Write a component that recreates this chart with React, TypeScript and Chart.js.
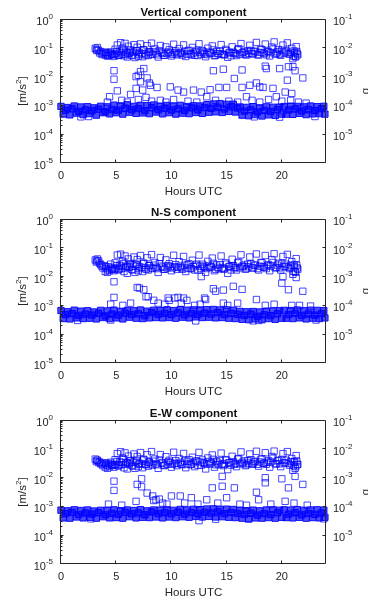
import React, { useEffect, useRef } from 'react';
import { Chart, registerables } from 'chart.js';

Chart.register(...registerables);

// ---------- text / axes ----------
const PANEL_TITLES = ['Vertical component', 'N-S component', 'E-W component'];
const X_LABEL = 'Hours UTC';
const Y_LABEL_BASE = '[m/s';
const Y_LABEL_SUP = '2';
const Y_LABEL_END = ']';
const RIGHT_LABEL_CUT = 'g';
const X_TICKS = [0, 5, 10, 15, 20];
const LEFT_EXPONENTS = [0, -1, -2, -3, -4, -5];
const RIGHT_EXPONENTS = [-1, -2, -3, -4, -5];
const HOUR_MIN = 0;
const HOUR_MAX = 24;
const LEFT_MIN = 1e-5;
const LEFT_MAX = 1;
const RIGHT_MIN = 1e-6;
const RIGHT_MAX = 1e-1;

// ---------- data ----------
// background level: sample times (hours UTC), shared by all three components
const bandHours = [
  0, 0.2, 0.4, 0.6, 0.8, 1, 1.2, 1.4, 1.6, 1.8, 2, 2.2, 2.4, 2.6, 2.8, 3, 3.2, 3.4, 3.6, 3.8, 4,
  4.2, 4.4, 4.6, 4.8, 5, 5.2, 5.4, 5.6, 5.8, 6, 6.2, 6.4, 6.6, 6.8, 7, 7.2, 7.4, 7.6, 7.8, 8, 8.2, 8.4, 8.6, 8.8, 9,
  9.2, 9.4, 9.6, 9.8, 10, 10.2, 10.4, 10.6, 10.8, 11, 11.2, 11.4, 11.6, 11.8, 12, 12.2, 12.4, 12.6, 12.8, 13,
  13.2, 13.4, 13.6, 13.8, 14, 14.2, 14.4, 14.6, 14.8, 15, 15.2, 15.4, 15.6, 15.8, 16,
  16.2, 16.4, 16.6, 16.8, 17, 17.2, 17.4, 17.6, 17.8, 18, 18.2, 18.4, 18.6, 18.8, 19, 19.2, 19.4, 19.6, 19.8, 20,
  20.2, 20.4, 20.6, 20.8, 21, 21.2, 21.4, 21.6, 21.8, 22, 22.2, 22.4, 22.6, 22.8, 23, 23.2, 23.4, 23.6, 23.8, 23.9,
];
// background level values, in units of 1e-4 m/s^2
const bandVertical = [
  9.2, 5.0, 6.8, 8.4, 4.7, 7.6, 9.5, 5.4, 6.2, 8.8, 4.8, 7.0, 9.0, 5.2, 6.5, 8.2, 4.6, 7.4, 9.3, 5.6, 6.0,
  8.9, 5.1, 7.2, 10.2, 5.6, 6.8, 9.6, 5.0, 8.0, 10.5, 5.8, 7.0, 9.2, 5.3, 7.8, 10.0, 5.5, 6.6, 9.8, 5.2, 8.3, 10.3, 5.9, 7.1, 9.4,
  5.1, 8.0, 9.9, 5.6, 6.9, 9.3, 5.0, 7.6, 10.0, 5.4, 6.7, 9.1, 5.2, 8.2, 9.7, 5.7, 7.0, 9.5, 5.3, 8.4,
  10.6, 5.8, 7.9, 11.2, 6.0, 8.6, 11.5, 5.7, 7.5, 10.9, 6.2, 9.0, 11.0, 5.9, 8.1,
  8.8, 4.6, 6.3, 8.5, 4.4, 7.0, 9.0, 4.8, 5.9, 8.2, 4.3, 6.8, 8.9, 4.7, 6.1, 8.6, 4.5, 7.2, 8.7, 5.0,
  9.1, 5.0, 6.9, 9.4, 4.9, 7.5, 9.2, 5.3, 6.4, 8.9, 4.8, 7.1, 9.5, 5.1, 6.6, 9.0, 5.2, 7.7, 9.3, 5.0,
];
const bandNS = [
  6.6, 3.5, 4.8, 6.0, 3.4, 5.2, 6.8, 3.7, 4.5, 6.3, 3.5, 5.0, 6.5, 3.6, 4.6, 5.9, 3.4, 5.3, 6.7, 3.8, 4.3,
  6.4, 3.5, 5.0, 6.8, 3.7, 4.6, 6.2, 3.4, 5.4, 6.7, 3.9, 4.8, 6.5, 3.6, 5.1, 6.9, 3.5, 4.4, 6.3, 3.7, 5.6, 6.8, 3.8, 4.9, 6.6,
  3.7, 5.3, 7.0, 3.8, 4.8, 6.6, 3.6, 5.5, 7.1, 3.9, 4.7, 6.8, 3.7, 5.2, 7.0, 4.0, 4.9, 6.9, 3.8, 5.4,
  7.1, 3.9, 5.0, 7.2, 3.7, 5.6, 6.9, 3.8, 4.8, 7.0, 3.6, 5.3, 6.8, 3.5, 4.9,
  6.2, 3.3, 4.5, 6.0, 3.2, 5.0, 6.1, 3.4, 4.2, 5.9, 3.2, 4.7, 6.3, 3.5, 4.4, 6.4, 3.3, 5.1, 6.5, 3.6,
  6.7, 3.6, 4.8, 6.6, 3.5, 5.3, 6.9, 3.7, 4.5, 6.5, 3.4, 5.0, 6.8, 3.6, 4.6, 6.7, 3.5, 5.2, 6.6, 3.7,
];
const bandEW = [
  7.4, 4.0, 5.6, 7.0, 3.9, 6.2, 7.6, 4.3, 5.2, 7.2, 4.0, 5.9, 7.5, 4.2, 5.4, 6.9, 3.9, 6.0, 7.3, 4.4, 5.1,
  7.3, 4.0, 5.7, 7.6, 4.1, 5.3, 7.1, 3.9, 6.2, 7.5, 4.4, 5.5, 7.2, 4.0, 5.9, 7.7, 4.2, 5.1, 7.0, 4.1, 6.4, 7.5, 4.3, 5.6, 7.4,
  4.0, 6.0, 7.6, 4.3, 5.5, 7.3, 4.1, 6.3, 7.8, 4.4, 5.4, 7.5, 4.2, 6.1, 7.9, 4.5, 5.7, 7.7, 4.3, 6.2,
  8.1, 4.5, 5.9, 8.2, 4.3, 6.5, 7.9, 4.4, 5.6, 8.0, 4.2, 6.1, 7.8, 4.1, 5.7,
  7.3, 3.9, 5.3, 7.1, 3.8, 5.8, 7.4, 4.0, 5.0, 7.0, 3.9, 5.6, 7.5, 4.1, 5.2, 7.6, 3.9, 6.0, 7.3, 4.2,
  7.6, 4.1, 5.4, 7.4, 4.0, 6.0, 7.7, 4.2, 5.1, 7.3, 3.9, 5.7, 7.5, 4.1, 5.3, 7.6, 4.0, 5.9, 7.4, 4.2,
];

// daytime high-level cluster, outer spread: sample times (hours UTC), shared by the three components
const upperHours = [
  3.1, 3.2, 3.3, 3.4, 3.6, 3.8, 3.9, 4.0, 4.1, 4.2, 4.3, 4.4, 4.5, 4.6,
  4.8, 4.9, 5.0, 5.1, 5.2, 5.3, 5.4, 5.5, 5.6, 5.7, 5.8, 5.9, 6.0, 6.1, 6.2, 6.3,
  6.5, 6.6, 6.7, 6.8, 6.9, 7.0, 7.1, 7.2,
  7.4, 7.5, 7.6, 7.8, 7.9, 8.0, 8.2, 8.3, 8.5, 8.6, 8.8, 9.0,
  9.1, 9.3, 9.5, 9.6, 9.8, 10.0,
  10.2, 10.3,
  10.5, 10.7, 10.9, 11.1, 11.3, 11.5, 11.7, 11.9, 12.1, 12.3, 12.5, 12.7, 12.9, 13.1, 13.3, 13.5, 13.7, 13.9,
  14.1, 14.3, 14.5, 14.7, 14.9, 15.1, 15.3, 15.5, 15.7, 15.9, 16.1, 16.3, 16.5, 16.7, 16.9, 17.1, 17.3, 17.5,
  17.7, 17.9, 18.1, 18.3, 18.5, 18.7, 18.9, 19.1, 19.3, 19.5, 19.7, 19.9, 20.1, 20.3, 20.5, 20.7, 20.9,
  21.0, 21.1, 21.2, 21.3, 21.4,
];
// values in units of 1e-2 m/s^2
const upperVertical = [
  9.6, 8.7, 10.2, 8.2, 7.4, 6.3, 7.0, 5.6, 6.1, 5.2, 6.8, 5.5, 7.2, 6.0,
  5.0, 8.9, 6.4, 12.5, 5.4, 7.6, 15.0, 6.0, 9.8, 5.3, 14.2, 7.1, 4.8, 11.3, 6.5, 8.4,
  5.6, 12.8, 4.6, 7.9, 10.4, 5.1, 6.9, 13.6,
  4.9, 8.6, 6.2, 11.8, 5.4, 7.3, 14.5, 5.9, 9.1, 6.6, 4.8, 12.0,
  7.0, 5.5, 10.7, 6.3, 8.5, 5.2,
  13.3, 6.8,
  5.7, 9.4, 6.4, 12.6, 5.0, 7.8, 6.1, 10.3, 5.5, 8.2, 13.8, 6.0, 7.2, 4.9, 9.7, 6.6, 11.6, 5.3,
  7.5, 6.2, 12.9, 5.8, 8.8, 4.7, 7.0, 10.8, 6.4, 5.4, 9.3, 14.0, 6.9, 5.9, 8.0, 12.2, 6.3, 7.6,
  15.3, 5.6, 9.0, 6.8, 13.5, 7.4, 5.2, 10.6, 16.0, 6.5, 8.7, 5.5, 12.4, 7.1, 14.8, 6.0, 9.6,
  4.2, 7.8, 5.0, 11.0, 6.2,
];
const upperNS = [
  3.8, 3.2, 4.1, 3.5, 2.6, 2.0, 2.4, 1.5, 1.9, 1.4, 2.2, 1.6, 2.7, 1.8,
  1.6, 3.0, 2.0, 5.6, 1.7, 2.5, 6.0, 1.9, 3.4, 1.5, 5.2, 2.3, 1.3, 4.1, 2.1, 2.8,
  1.7, 4.8, 1.4, 2.6, 3.9, 1.6, 2.2, 5.4,
  1.5, 2.9, 2.0, 4.5, 1.7, 2.4, 5.8, 1.9, 3.1, 2.1, 1.4, 4.6,
  2.3, 1.8, 3.8, 2.0, 2.8, 1.6,
  5.5, 2.2,
  1.8, 3.3, 2.0, 5.0, 1.5, 2.6, 1.9, 3.7, 1.7, 2.7, 5.6, 1.9, 2.3, 1.4, 3.4, 2.1, 4.4, 1.6,
  2.5, 1.9, 5.2, 1.8, 3.0, 1.3, 2.3, 4.0, 2.0, 1.7, 3.2, 5.7, 2.2, 1.8, 2.7, 4.8, 2.0, 2.5,
  6.1, 1.7, 3.1, 2.2, 5.4, 2.4, 1.6, 3.9, 6.2, 2.1, 2.9, 1.7, 5.0, 2.3, 5.9, 1.9, 3.3,
  1.2, 2.6, 1.5, 4.2, 2.0,
];
const upperEW = [
  4.4, 3.6, 4.0, 3.3, 3.0, 2.6, 3.2, 2.3, 2.8, 2.1, 3.1, 2.4, 3.4, 2.7,
  2.3, 4.2, 2.9, 6.8, 2.5, 3.5, 7.9, 2.8, 4.7, 2.2, 7.2, 3.3, 2.0, 5.6, 3.0, 3.9,
  2.5, 6.6, 2.1, 3.7, 5.4, 2.4, 3.1, 7.4,
  2.2, 4.1, 2.9, 6.2, 2.5, 3.4, 8.0, 2.7, 4.4, 3.0, 2.1, 6.3,
  3.2, 2.6, 5.3, 2.9, 4.0, 2.3,
  7.6, 3.1,
  2.6, 4.6, 2.9, 6.9, 2.2, 3.7, 2.8, 5.1, 2.4, 3.8, 7.5, 2.7, 3.3, 2.0, 4.8, 3.0, 6.1, 2.3,
  3.6, 2.8, 7.1, 2.6, 4.2, 1.9, 3.3, 5.5, 2.9, 2.4, 4.5, 7.8, 3.1, 2.6, 3.8, 6.6, 2.9, 3.5,
  8.2, 2.5, 4.3, 3.1, 7.3, 3.4, 2.3, 5.4, 8.3, 3.0, 4.0, 2.4, 6.8, 3.2, 8.0, 2.7, 4.6,
  1.8, 3.6, 2.1, 5.8, 2.8,
];

// daytime high-level cluster, dense core: sample times (hours UTC)
const coreHours = [
  3.25, 3.5, 3.7, 4.05, 4.25, 4.55, 4.7,
  4.85, 5.05, 5.25, 5.45, 5.65, 5.85, 6.05, 6.25,
  6.4, 6.6, 6.85, 7.05, 7.3, 7.5, 7.7, 7.95,
  8.15, 8.4, 8.7, 8.9, 9.2, 9.4, 9.7, 9.9,
  10.1, 10.4, 10.6,
  10.8, 11.0, 11.2, 11.4, 11.6, 11.8, 12.0, 12.2, 12.4, 12.6, 12.8, 13.0, 13.2, 13.4, 13.6, 13.8, 14.0,
  14.2, 14.4, 14.6, 14.8, 15.0, 15.2, 15.4, 15.6, 15.8, 16.0, 16.2, 16.4, 16.6, 16.8, 17.0, 17.2, 17.4,
  17.6, 17.8, 18.0, 18.2, 18.4, 18.6, 18.8, 19.0, 19.2, 19.4, 19.6, 19.8, 20.0, 20.2, 20.4, 20.6, 20.8,
  21.05, 21.15, 21.25, 21.35, 21.45,
];
// values in units of 1e-2 m/s^2
const coreVertical = [
  8.0, 6.6, 5.8, 6.9, 5.3, 6.2, 5.7,
  6.0, 7.3, 5.5, 6.8, 8.1, 5.9, 6.5, 7.6,
  5.4, 6.9, 7.8, 5.8, 6.3, 8.3, 5.6, 7.0,
  6.1, 7.4, 5.7, 8.0, 6.4, 5.5, 7.2, 6.7,
  5.9, 7.7, 6.2,
  6.8, 5.6, 7.5, 6.0, 8.2, 5.7, 6.6, 7.3, 5.4, 6.9, 8.0, 6.2, 5.8, 7.1, 6.5, 8.4, 5.5,
  6.3, 7.6, 6.0, 5.7, 7.9, 6.6, 5.3, 7.0, 6.2, 8.5, 5.9, 6.7, 7.4, 5.6, 6.4, 8.1, 6.1,
  7.2, 5.8, 6.9, 8.6, 6.3, 5.7, 7.5, 6.8, 9.0, 6.0, 7.3, 5.9, 8.3, 6.5, 7.8, 6.2, 7.0,
  5.2, 6.6, 4.8, 7.4, 5.7,
];
const coreNS = [
  3.5, 2.9, 2.3, 2.2, 1.7, 2.0, 1.8,
  1.9, 2.4, 1.8, 2.3, 2.8, 2.0, 2.2, 2.6,
  1.8, 2.3, 2.7, 1.9, 2.1, 2.9, 1.8, 2.4,
  2.0, 2.5, 1.9, 2.8, 2.1, 1.8, 2.4, 2.2,
  2.0, 2.6, 2.1,
  2.3, 1.8, 2.5, 2.0, 2.8, 1.9, 2.2, 2.5, 1.7, 2.3, 2.7, 2.1, 1.9, 2.4, 2.2, 2.9, 1.8,
  2.1, 2.6, 2.0, 1.9, 2.7, 2.2, 1.7, 2.4, 2.1, 3.0, 2.0, 2.3, 2.5, 1.9, 2.2, 2.8, 2.0,
  2.5, 1.9, 2.3, 3.0, 2.1, 1.9, 2.6, 2.3, 3.1, 2.0, 2.5, 2.0, 2.9, 2.2, 2.7, 2.1, 2.4,
  1.5, 2.2, 1.4, 2.5, 1.8,
];
const coreEW = [
  4.0, 3.5, 3.0, 3.2, 2.6, 2.9, 2.7,
  2.8, 3.6, 2.7, 3.4, 4.2, 2.9, 3.2, 3.8,
  2.7, 3.4, 4.0, 2.9, 3.1, 4.3, 2.8, 3.5,
  3.0, 3.7, 2.8, 4.1, 3.2, 2.7, 3.6, 3.3,
  2.9, 3.9, 3.1,
  3.4, 2.8, 3.8, 3.0, 4.2, 2.9, 3.3, 3.7, 2.7, 3.5, 4.1, 3.1, 2.9, 3.6, 3.3, 4.3, 2.8,
  3.2, 3.9, 3.0, 2.9, 4.0, 3.3, 2.7, 3.6, 3.1, 4.4, 3.0, 3.4, 3.8, 2.8, 3.2, 4.2, 3.1,
  3.7, 2.9, 3.5, 4.5, 3.2, 2.9, 3.9, 3.5, 4.7, 3.0, 3.8, 3.0, 4.3, 3.3, 4.0, 3.1, 3.6,
  2.6, 3.4, 2.4, 3.8, 2.9,
];

// isolated intermediate points: [hour UTC, m/s^2]
const scatterVertical = [
  [4.8, 1.6e-2], [4.8, 8.1e-3], [5.1, 3.2e-3], [6.8, 1.0e-2], [7.5, 1.9e-2], [7.2, 6.6e-3], [8.0, 6.0e-3],
  [6.8, 3.9e-3], [7.4, 3.4e-3], [8.7, 4.2e-3], [9.9, 4.4e-3], [10.6, 3.4e-3], [11.1, 2.9e-3], [12.0, 3.4e-3],
  [12.7, 2.9e-3], [13.5, 3.5e-3], [14.3, 4.2e-3], [13.8, 1.6e-2], [14.7, 1.8e-2], [15.0, 4.2e-3], [15.7, 8.6e-3],
  [16.4, 1.7e-2], [16.4, 4.2e-3], [17.7, 6.0e-3], [18.3, 4.2e-3], [18.5, 2.3e-2], [19.8, 1.9e-2], [20.5, 7.5e-3],
  [21.2, 1.6e-2], [21.0, 2.2e-2], [21.9, 9.0e-3], [6.3, 2.4e-3], [16.8, 2.0e-3], [19.5, 2.0e-3], [20.3, 2.9e-3],
  [4.4, 2.0e-3], [7.7, 1.9e-3], [13.2, 2.0e-3], [7.2, 1.5e-2], [7.0, 1.1e-2], [7.8, 9.0e-3], [18.6, 1.9e-2],
  [20.6, 2.2e-2], [17.1, 5.0e-3], [18.0, 4.4e-3], [19.2, 3.9e-3], [20.9, 2.6e-3], [8.1, 5.0e-3],
  [4.2, 1.3e-3], [5.5, 1.5e-3], [6.0, 1.3e-3], [7.0, 1.6e-3], [8.2, 1.4e-3], [9.0, 1.5e-3], [9.5, 1.3e-3],
  [10.2, 1.6e-3], [11.5, 1.4e-3], [12.3, 1.3e-3], [14.0, 1.5e-3], [15.2, 1.4e-3], [16.0, 1.3e-3], [17.3, 1.5e-3],
  [18.0, 1.3e-3], [18.8, 1.6e-3], [20.0, 1.4e-3], [20.8, 1.5e-3], [21.5, 1.3e-3], [22.2, 1.2e-3],
  [1.8, 4.0e-4], [2.5, 4.1e-4], [17.5, 4.0e-4], [19.8, 3.9e-4], [23.0, 4.1e-4],
];
const scatterNS = [
  [4.8, 6.6e-3], [4.8, 1.9e-3], [6.9, 4.2e-3], [7.5, 3.5e-3], [7.7, 2.0e-3], [8.4, 1.5e-3], [9.8, 1.5e-3],
  [10.6, 1.9e-3], [11.4, 1.5e-3], [13.1, 1.6e-3], [13.8, 3.8e-3], [14.0, 3.1e-3], [14.7, 1.2e-3], [15.6, 4.6e-3],
  [16.4, 3.6e-3], [17.7, 1.6e-3], [20.0, 5.9e-3], [20.6, 3.5e-3], [21.3, 9.3e-3], [21.9, 3.1e-3], [6.3, 1.2e-3],
  [7.9, 2.0e-3], [14.7, 3.4e-3], [13.0, 1.8e-3], [20.9, 1.0e-3], [7.1, 4.0e-3], [12.7, 1.0e-2], [20.1, 1.0e-2],
  [9.7, 1.8e-3], [10.3, 1.8e-3], [11.1, 1.8e-3],
  [4.5, 1.1e-3], [5.6, 1.0e-3], [8.8, 1.2e-3], [9.4, 1.1e-3], [10.9, 1.2e-3], [12.1, 1.0e-3], [12.6, 1.1e-3],
  [15.1, 1.0e-3], [16.0, 1.2e-3], [18.5, 1.0e-3], [19.3, 1.1e-3], [21.6, 1.0e-3], [22.6, 9.5e-4],
  [1.5, 3.0e-4], [4.5, 3.1e-4], [12.2, 2.9e-4], [17.4, 2.9e-4], [17.9, 3.0e-4], [23.1, 3.1e-4],
];
const scatterEW = [
  [4.8, 7.5e-3], [4.8, 3.6e-3], [6.9, 5.8e-3], [7.3, 9.1e-3], [7.3, 4.8e-3], [7.8, 2.9e-3], [8.3, 2.3e-3],
  [8.6, 1.7e-3], [6.8, 1.5e-3], [10.0, 2.3e-3], [10.8, 2.3e-3], [11.8, 2.0e-3], [13.2, 1.7e-3], [13.7, 4.4e-3],
  [14.6, 5.0e-3], [14.6, 1.1e-2], [15.7, 4.4e-3], [15.0, 2.0e-3], [17.7, 3.1e-3], [18.5, 9.9e-3], [18.5, 6.6e-3],
  [20.0, 9.1e-3], [20.6, 4.4e-3], [21.2, 1.1e-2], [21.9, 5.8e-3], [17.9, 1.7e-3], [20.3, 1.5e-3], [21.1, 1.3e-3],
  [8.9, 1.8e-3], [8.4, 1.6e-3],
  [4.3, 1.2e-3], [5.5, 1.1e-3], [9.2, 1.3e-3], [9.6, 1.2e-3], [11.2, 1.3e-3], [12.4, 1.2e-3], [14.2, 1.3e-3],
  [16.2, 1.2e-3], [16.8, 1.1e-3], [19.0, 1.2e-3], [22.3, 1.1e-3],
  [2.7, 3.7e-4], [12.5, 3.2e-4], [14.0, 3.6e-4], [17.0, 3.6e-4], [23.8, 3.7e-4],
];

// ---------- styling ----------
const FONT = '"Liberation Sans", Arial, Helvetica, sans-serif';
const INK = '#262626';
const MARK = 'rgba(0,0,255,0.72)';
const BAND_EDGE = 'rgba(0,0,255,0.9)';
const BAND_FILL = 'rgba(0,0,255,0.7)';
const PANEL_TOPS = [0, 200, 401];
const CANVAS_W = 368;
const CANVAS_H = 200;

const PANELS = [
  { title: PANEL_TITLES[0], band: bandVertical, upper: upperVertical, core: coreVertical, scatter: scatterVertical },
  { title: PANEL_TITLES[1], band: bandNS, upper: upperNS, core: coreNS, scatter: scatterNS },
  { title: PANEL_TITLES[2], band: bandEW, upper: upperEW, core: coreEW, scatter: scatterEW },
];

function drawPow(ctx: CanvasRenderingContext2D, x: number, y: number, exp: number, align: 'left' | 'right') {
  const base = '10';
  const sup = String(exp);
  ctx.font = `11px ${FONT}`;
  const wb = ctx.measureText(base).width;
  ctx.font = `8px ${FONT}`;
  const ws = ctx.measureText(sup).width;
  const x0 = align === 'right' ? x - wb - ws : x;
  ctx.textAlign = 'left';
  ctx.textBaseline = 'middle';
  ctx.font = `11px ${FONT}`;
  ctx.fillText(base, x0, y + 3);
  ctx.font = `8px ${FONT}`;
  ctx.fillText(sup, x0 + wb, y - 2.5);
}

function makeFrame(title: string) {
  return {
    id: 'matlabFrame',
    afterDraw(chart: any) {
      const { ctx, chartArea: ca, scales } = chart;
      const xs = scales.x;
      const yl = scales.y;
      const yr = scales.y2;
      const L = ca.left - 0.5;
      const R = ca.right - 0.5;
      const T = ca.top + 0.5;
      const B = ca.bottom - 0.5;
      const clampY = (p: number) => Math.min(B, Math.max(T, Math.floor(p) + 0.5));
      ctx.save();
      ctx.strokeStyle = INK;
      ctx.lineWidth = 1;
      ctx.beginPath();
      ctx.rect(L, T, R - L, B - T);
      for (const v of X_TICKS) {
        const p = Math.round(xs.getPixelForValue(v)) - 0.5;
        ctx.moveTo(p, B);
        ctx.lineTo(p, B - 3);
        ctx.moveTo(p, T);
        ctx.lineTo(p, T + 3);
      }
      for (let e = -5; e <= 0; e++) {
        const p = clampY(yl.getPixelForValue(Math.pow(10, e)));
        ctx.moveTo(L, p);
        ctx.lineTo(L + 3, p);
        if (e < 0) {
          for (let m = 2; m <= 9; m++) {
            const q = clampY(yl.getPixelForValue(m * Math.pow(10, e)));
            ctx.moveTo(L, q);
            ctx.lineTo(L + 2, q);
          }
        }
      }
      for (let e = -6; e <= -1; e++) {
        const p = clampY(yr.getPixelForValue(Math.pow(10, e)));
        ctx.moveTo(R, p);
        ctx.lineTo(R - 3, p);
      }
      ctx.stroke();

      ctx.fillStyle = INK;
      for (const e of LEFT_EXPONENTS) drawPow(ctx, ca.left - 8, yl.getPixelForValue(Math.pow(10, e)), e, 'right');
      for (const e of RIGHT_EXPONENTS) drawPow(ctx, ca.right + 7, yr.getPixelForValue(Math.pow(10, e)), e, 'left');

      // title
      ctx.fillStyle = '#111';
      ctx.font = `bold 11.5px ${FONT}`;
      ctx.textAlign = 'center';
      ctx.textBaseline = 'middle';
      ctx.fillText(title, (ca.left + ca.right) / 2, 12.5);

      // y-axis title with superscript
      ctx.fillStyle = INK;
      ctx.save();
      ctx.translate(22.5, (ca.top + ca.bottom) / 2);
      ctx.rotate(-Math.PI / 2);
      ctx.font = `11.5px ${FONT}`;
      const w1 = ctx.measureText(Y_LABEL_BASE).width;
      const w3 = ctx.measureText(Y_LABEL_END).width;
      ctx.font = `8px ${FONT}`;
      const w2 = ctx.measureText(Y_LABEL_SUP).width;
      const x0 = -(w1 + w2 + w3) / 2;
      ctx.textAlign = 'left';
      ctx.textBaseline = 'middle';
      ctx.font = `11.5px ${FONT}`;
      ctx.fillText(Y_LABEL_BASE, x0, 0);
      ctx.font = `8px ${FONT}`;
      ctx.fillText(Y_LABEL_SUP, x0 + w1, -4);
      ctx.font = `11.5px ${FONT}`;
      ctx.fillText(Y_LABEL_END, x0 + w1 + w2, 0);
      ctx.restore();

      // right-hand axis title, cut by the figure edge
      ctx.save();
      ctx.translate(369, (ca.top + ca.bottom) / 2);
      ctx.rotate(-Math.PI / 2);
      ctx.font = `11.5px ${FONT}`;
      ctx.textAlign = 'center';
      ctx.textBaseline = 'alphabetic';
      ctx.fillText(RIGHT_LABEL_CUT, 0, 0);
      ctx.restore();
      ctx.restore();
    },
  };
}

function buildConfig(panel: any): any {
  const pointBase = { type: 'scatter', pointStyle: 'rect', pointRadius: 4.5, pointBorderWidth: 1, showLine: false, clip: false };
  const hollow = { pointBorderColor: MARK, pointBackgroundColor: 'rgba(0,0,0,0)' };
  return {
    type: 'scatter',
    data: {
      datasets: [
        {
          ...pointBase,
          label: 'background',
          data: bandHours.map((h, i) => ({ x: h, y: panel.band[i] * 1e-4 })),
          pointBorderColor: BAND_EDGE,
          pointBackgroundColor: BAND_FILL,
        },
        {
          ...pointBase,
          ...hollow,
          label: 'scattered',
          data: panel.scatter.map((p: number[]) => ({ x: p[0], y: p[1] })),
        },
        {
          ...pointBase,
          ...hollow,
          label: 'cluster',
          data: upperHours.map((h, i) => ({ x: h, y: panel.upper[i] * 1e-2 })),
        },
        {
          ...pointBase,
          ...hollow,
          label: 'cluster core',
          data: coreHours.map((h, i) => ({ x: h, y: panel.core[i] * 1e-2 })),
        },
      ],
    },
    options: {
      responsive: false,
      animation: false,
      devicePixelRatio: 1,
      events: [],
      layout: { padding: { top: 19, left: 0, right: 0, bottom: 0 } },
      plugins: { legend: { display: false }, tooltip: { enabled: false }, title: { display: false } },
      scales: {
        x: {
          type: 'linear',
          position: 'bottom',
          min: HOUR_MIN,
          max: HOUR_MAX,
          grid: { display: false, drawTicks: false },
          border: { display: false },
          ticks: { color: INK, font: { family: FONT, size: 11 }, padding: 6, maxRotation: 0, autoSkip: false },
          afterBuildTicks: (s: any) => {
            s.ticks = X_TICKS.map((v) => ({ value: v }));
          },
          title: { display: true, text: X_LABEL, color: INK, font: { family: FONT, size: 11.5 }, padding: { top: 0, bottom: 1 } },
          afterFit: (s: any) => {
            s.height = 37;
          },
        },
        y: {
          type: 'logarithmic',
          position: 'left',
          min: LEFT_MIN,
          max: LEFT_MAX,
          grid: { display: false, drawTicks: false },
          border: { display: false },
          ticks: { display: false },
          afterFit: (s: any) => {
            s.width = 61;
          },
        },
        y2: {
          type: 'logarithmic',
          position: 'right',
          min: RIGHT_MIN,
          max: RIGHT_MAX,
          grid: { display: false, drawTicks: false },
          border: { display: false },
          ticks: { display: false },
          afterFit: (s: any) => {
            s.width = 42;
          },
        },
      },
    },
    plugins: [makeFrame(panel.title)],
  };
}

export default function App() {
  const r0 = useRef<HTMLCanvasElement | null>(null);
  const r1 = useRef<HTMLCanvasElement | null>(null);
  const r2 = useRef<HTMLCanvasElement | null>(null);
  const refs = [r0, r1, r2];

  useEffect(() => {
    const charts = PANELS.map((p, i) => new Chart(refs[i].current as HTMLCanvasElement, buildConfig(p)));
    return () => charts.forEach((c) => c.destroy());
  }, []);

  return (
    <div style={{ position: 'absolute', left: 0, top: 0, width: 368, height: 605, overflow: 'hidden', background: '#fff' }}>
      {PANEL_TOPS.map((t, i) => (
        <canvas
          key={i}
          ref={refs[i]}
          width={CANVAS_W}
          height={CANVAS_H}
          style={{ position: 'absolute', left: 0, top: t, width: CANVAS_W, height: CANVAS_H, display: 'block' }}
        />
      ))}
    </div>
  );
}
